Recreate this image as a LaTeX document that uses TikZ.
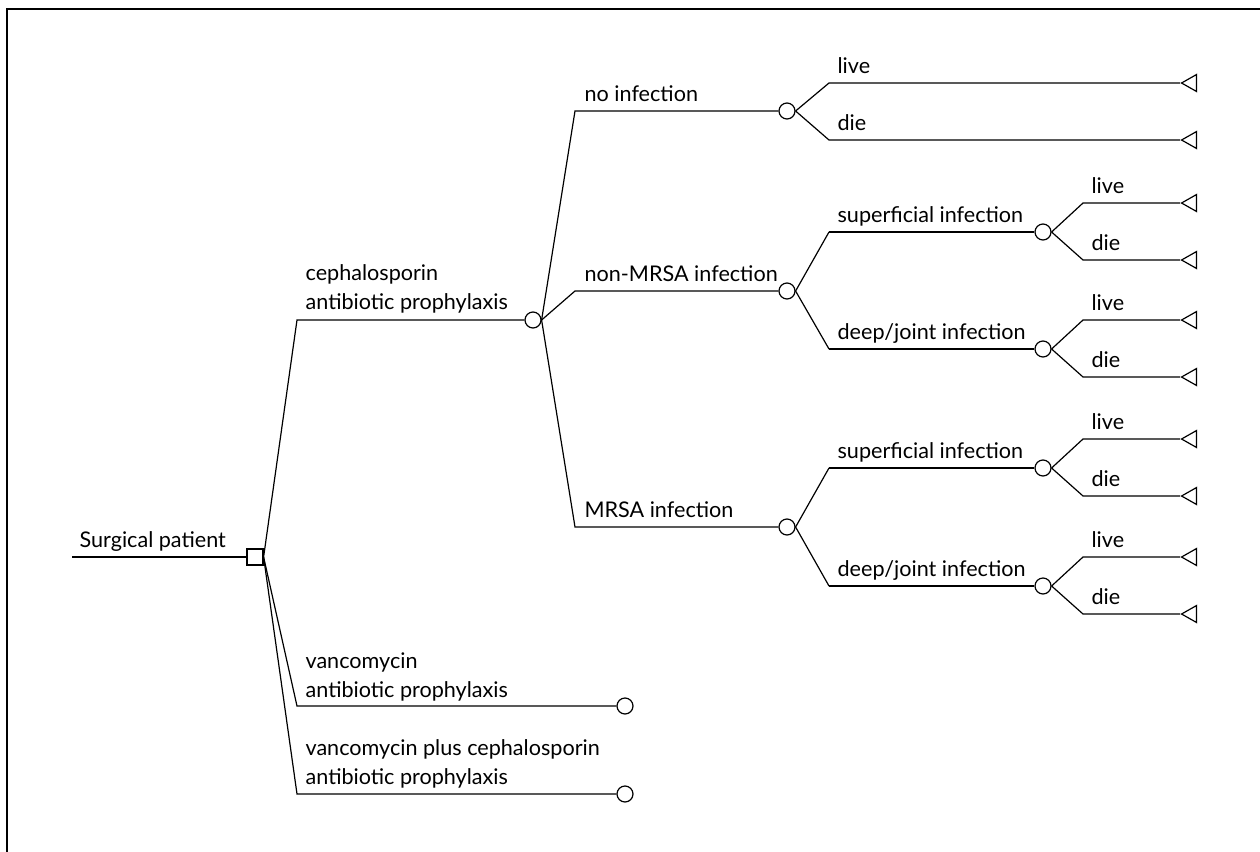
\documentclass[tikz,border=0pt]{standalone}
\usepackage{fontspec}
\setmainfont{Lato}
\usetikzlibrary{shapes.geometric}
\tikzset{
  decision/.style={draw,rectangle,minimum size=8pt,inner sep=0pt},
  chance/.style={draw,circle,minimum size=8pt,inner sep=0pt},
  terminal/.style={draw,isosceles triangle,shape border rotate=180,
    isosceles triangle stretches,minimum width=8.5pt,minimum height=7.5pt,
    inner sep=0pt,anchor=apex},
  lbl/.style={anchor=base west,inner sep=0pt,align=left,
    font=\fontsize{10.8}{14.5}\selectfont},
}
\begin{document}
\begin{tikzpicture}[x=0.5pt,y=-0.5pt,line width=0.6pt]
  \useasboundingbox (0,0) rectangle (1260,852);
  % frame, only top and left edge
  \draw (7,852) -- (7,9) -- (1260,9);

  %% decision
  \coordinate (start) at (72,557);
  \node[decision] (patient) at (255,557) {};
  \draw (start) -- (patient.west);
  \node[lbl] (patienttxt) at (79,547) {Surgical patient};

  %% the three strategies
  \coordinate (ceph-c) at (297,320);
  \coordinate (vanc-c) at (297,706);
  \coordinate (both-c) at (297,794);
  \node[chance] (ceph) at (533,320) {};
  \node[chance] (vanc) at (625,706) {};
  \node[chance] (both) at (625,794) {};
  \foreach \s in {ceph,vanc,both}
    \draw (patient.east) -- (\s-c) -- (\s.west);
  \node[lbl] (cephtxt) at (305,309) {cephalosporin\\antibiotic prophylaxis};
  \node[lbl] (vanctxt) at (305,697) {vancomycin\\antibiotic prophylaxis};
  \node[lbl] (bothtxt) at (305,784) {vancomycin plus cephalosporin\\antibiotic prophylaxis};

  %% infection outcomes of cephalosporin
  \coordinate (none-c) at (575,111);
  \coordinate (nmrsa-c) at (575,291);
  \coordinate (mrsa-c) at (575,527);
  \node[chance] (none) at (787,111) {};
  \node[chance] (nmrsa) at (787,291) {};
  \node[chance] (mrsa) at (787,527) {};
  \foreach \s in {none,nmrsa,mrsa}
    \draw (ceph.east) -- (\s-c) -- (\s.west);
  \node[lbl] (nonetxt) at (584,101) {no infection};
  \node[lbl] (nmrsatxt) at (584,281) {non-MRSA infection};
  \node[lbl] (mrsatxt) at (584,517) {MRSA infection};

  %% no infection: live / die
  \coordinate (none-lc) at (829,83);
  \coordinate (none-dc) at (829,140);
  \node[terminal] (none-l) at (1180,83) {};
  \node[terminal] (none-d) at (1180,140) {};
  \draw (none.east) -- (none-lc) -- (none-l.apex);
  \draw (none.east) -- (none-dc) -- (none-d.apex);
  \node[lbl] (none-ltxt) at (837,73) {live};
  \node[lbl] (none-dtxt) at (837,130) {die};

  %% superficial / deep-joint
  \coordinate (s1-c) at (829,232);
  \coordinate (d1-c) at (829,349);
  \coordinate (s2-c) at (829,468);
  \coordinate (d2-c) at (829,586);
  \foreach \n/\p in {s1/nmrsa,d1/nmrsa,s2/mrsa,d2/mrsa}
    \draw (\p.east) -- (\n-c);
  \foreach \n/\y in {s1/232,s2/468}
    \node[lbl] (\n txt) at (837,\y-10) {superficial infection};
  \foreach \n/\y in {d1/349,d2/586}
    \node[lbl] (\n txt) at (837,\y-10) {deep/joint infection};

  % live / die after each infection
  \foreach \n/\y in {s1/232,d1/349,s2/468,d2/586}
  {
    \node[chance] (\n) at (1043,\y) {};
    \draw (\n-c) -- (\n.west);
    \coordinate (\n-lc) at (1083,\y-29);
    \coordinate (\n-dc) at (1083,\y+28);
    \node[terminal] (\n-l) at (1180,\y-29) {};
    \node[terminal] (\n-d) at (1180,\y+28) {};
    \draw (\n.east) -- (\n-lc) -- (\n-l.apex);
    \draw (\n.east) -- (\n-dc) -- (\n-d.apex);
    \node[lbl] (\n-ltxt) at (1091,\y-39) {live};
    \node[lbl] (\n-dtxt) at (1091,\y+18) {die};
  }
\end{tikzpicture}
\end{document}
